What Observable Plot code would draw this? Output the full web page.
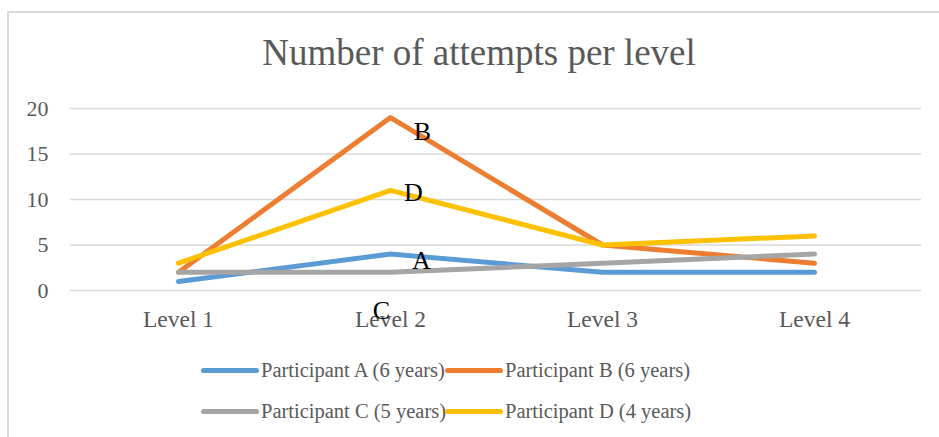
<!DOCTYPE html>
<html><head><meta charset="utf-8">
<script src="https://cdn.jsdelivr.net/npm/d3@7"></script>
<script src="https://cdn.jsdelivr.net/npm/@observablehq/plot@0.6"></script>
<style>
html,body{margin:0;padding:0;background:#fff;width:939px;height:437px;overflow:hidden;}
#frame{position:absolute;left:7px;top:11px;width:1000px;height:500px;border-left:2px solid #d9d9d9;border-top:2px solid #d9d9d9;}
#title{position:absolute;left:0;width:958px;top:31px;text-align:center;font-family:"Liberation Serif","Times New Roman",serif;font-size:37px;color:#595959;}
#chart{position:absolute;left:0;top:0;}
#legend{position:absolute;left:201px;width:570px;top:350px;display:flex;flex-wrap:wrap;font-family:"Liberation Serif","Times New Roman",serif;font-size:20.5px;color:#595959;}
.item{display:flex;align-items:center;height:41px;white-space:nowrap;}
.item:nth-child(odd){width:244px;}
.item:nth-child(even){width:320px;}
.sw{width:58px;height:5px;border-radius:3px;margin-right:2px;flex:none;}
</style></head><body>
<div id="frame"></div>
<div id="title">Number of attempts per level</div>
<div id="chart"></div>
<div id="legend"></div>
<script>
const levels = ["Level 1","Level 2","Level 3","Level 4"];
const seriesNames = ["Participant A (6 years)","Participant B (6 years)","Participant C (5 years)","Participant D (4 years)"];
const colors = ["#5B9BD5","#ED7D31","#A5A5A5","#FFC000"];
const valuesA = [1,4,2,2];
const valuesB = [2,19,5,3];
const valuesC = [2,2,3,4];
const valuesD = [3,11,5,6];
const yTicks = [0,5,10,15,20];
const noteLetters = ["B","D","A","C"];
const noteLevels = ["Level 2","Level 2","Level 2","Level 2"];
const noteValues = [17.4,10.8,3.3,-2.2];
const noteDx = [32,23,31,-9];

const all = [valuesA,valuesB,valuesC,valuesD];
const data = [];
all.forEach((vals,si)=>vals.forEach((v,i)=>data.push({series:seriesNames[si],level:levels[i],value:v})));
const notes = noteLetters.map((t,i)=>({text:t,level:noteLevels[i],value:noteValues[i],dx:noteDx[i]}));

const plot = Plot.plot({
  width:939, height:340,
  marginLeft:70, marginRight:18, marginTop:108, marginBottom:50,
  style:{fontFamily:'"Liberation Serif","Times New Roman",serif',fontSize:"22px",color:"#595959",background:"transparent",overflow:"visible"},
  x:{type:"point",domain:levels,padding:0.5,label:null},
  y:{domain:[0,20],ticks:yTicks,label:null},
  color:{domain:seriesNames,range:colors},
  marks:[
    Plot.gridY(yTicks,{stroke:"#d9d9d9",strokeOpacity:1,strokeWidth:1.5}),
    Plot.axisY({ticks:yTicks,tickSize:0,tickPadding:22,label:null,fontSize:22}),
    Plot.axisX({tickSize:0,tickPadding:20,label:null,fontSize:23.5}),
    Plot.line(data,{x:"level",y:"value",z:"series",stroke:"series",strokeWidth:5,strokeLinecap:"round",strokeLinejoin:"round"}),
    ...notes.map(n=>Plot.text([n],{x:"level",y:"value",text:"text",dx:n.dx,fill:"#000",fontSize:26,clip:false}))
  ]
});
document.getElementById("chart").appendChild(plot);

const lg = document.getElementById("legend");
seriesNames.forEach((s,i)=>{
  const it=document.createElement("div");it.className="item";
  it.innerHTML=`<div class="sw" style="background:${colors[i]}"></div><span>${s}</span>`;
  lg.appendChild(it);
});
</script>
</body></html>
